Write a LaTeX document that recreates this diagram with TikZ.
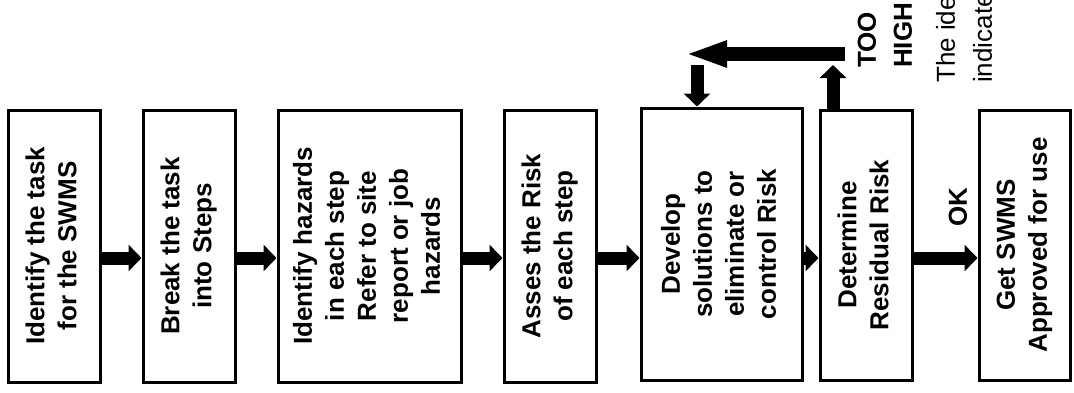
\documentclass[tikz,border=0pt]{standalone}
\usepackage{fontspec}
\setmainfont{Liberation Sans}
\usepackage{graphicx}
\usepackage{tikz}
\usetikzlibrary{arrows.meta,calc}

\newcommand{\boxtext}[1]{\rotatebox{90}{\fontsize{26}{32}\selectfont\bfseries\begin{tabular}{@{}c@{}}#1\end{tabular}}}

\begin{document}
\begin{tikzpicture}[x=1pt,y=1pt,
    stepbox/.style={draw,line width=3pt,inner sep=0pt,minimum height=272pt},
    flow/.style={line width=13pt,-{Triangle[width=26pt,length=13pt]}},
    backflow/.style={line width=13pt,-{Triangle[width=24pt,length=42pt]}},
    sidelabel/.style={rotate=90,inner sep=0pt,font=\fontsize{26}{36}\selectfont\bfseries}]
    \useasboundingbox (0,0) rectangle (1074,392);

    \node[stepbox,minimum width=92pt] (task) at (54,146) {\boxtext{Identify the task\\for the SWMS}};
    \node[stepbox,minimum width=92pt] (steps) at (189,146) {\boxtext{Break the task\\into Steps}};
    \node[stepbox,minimum width=183pt] (hazards) at (369.5,146) {\boxtext{Identify hazards\\in each step\\Refer to site\\report or job\\hazards}};
    \node[stepbox,minimum width=92pt] (assess) at (550,146) {\boxtext{Asses the Risk\\of each step}};
    \node[stepbox,minimum width=161pt] (develop) at (721.5,148) {\boxtext{Develop\\solutions to\\eliminate or\\control Risk}};
    \node[stepbox,minimum width=92pt,minimum height=270pt] (resid) at (866,147) {\boxtext{Determine\\Residual Risk}};
    \node[stepbox,minimum width=91pt,minimum height=270pt] (approve) at (1024.5,147) {\boxtext{Get SWMS\\Approved for use}};

    \coordinate (base) at (0,134);
    \draw[flow] (task.east |- base) -- (steps.west |- base);
    \draw[flow] (steps.east |- base) -- (hazards.west |- base);
    \draw[flow] (hazards.east |- base) -- (assess.west |- base);
    \draw[flow] (assess.east |- base) -- (develop.west |- base);
    \draw[flow] (develop.east |- base) -- (resid.west |- base);
    \draw[flow] (resid.east |- base) -- (approve.west |- base);
    \node[sidelabel] (ok) at (958,185) {OK};

    % loop back when too high
    \coordinate (upend) at (833,327);
    \coordinate (backstart) at (845,338);
    \coordinate (backend) at (685,338);
    \coordinate (downstart) at (697,327);
    \draw[flow] (resid.north -| upend) -- (upend);
    \draw[backflow] (backstart) -- (backend);
    \draw[flow] (downstart) -- (develop.north -| downstart);

    \begin{scope}
    \clip (0,0) rectangle (1074,392);
    \node[sidelabel,anchor=west,align=left] (toohigh) at (885,324) {TOO\\HIGH};
    \node[rotate=90,inner sep=0pt,anchor=west,align=left,font=\fontsize{26}{37}\selectfont] (note) at (964,309) {The ide\\indicate};
    \end{scope}
\end{tikzpicture}
\end{document}
